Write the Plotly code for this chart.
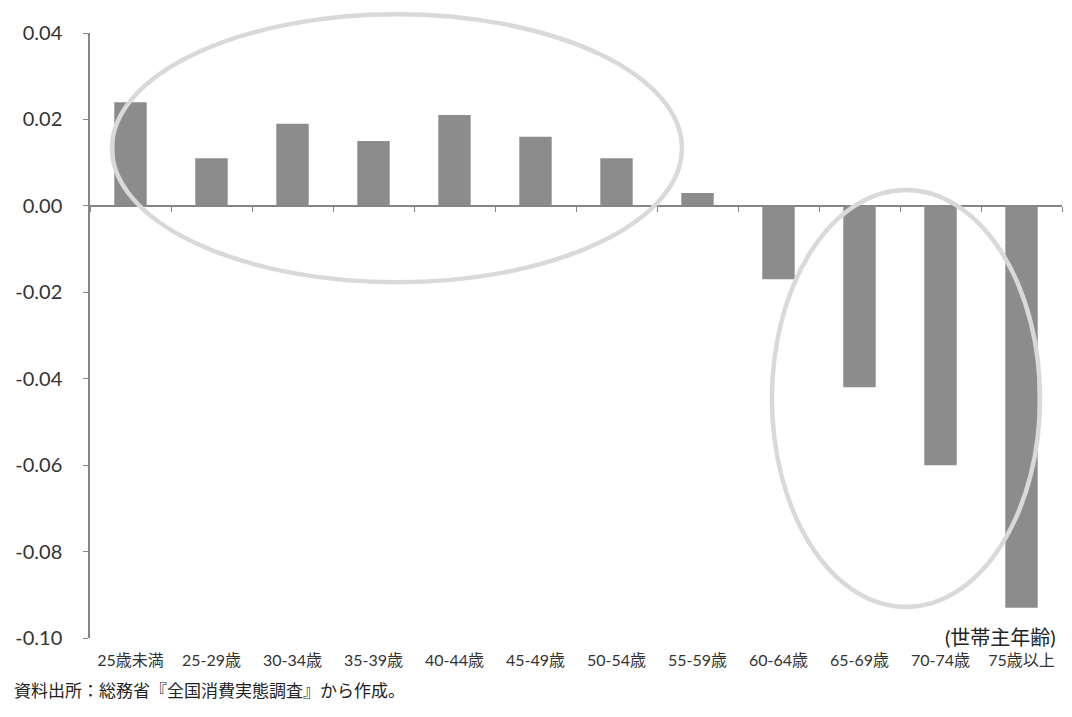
import plotly.graph_objects as go

# Household head age groups and the change in each group's share
age_groups = ["25歳未満", "25-29歳", "30-34歳", "35-39歳", "40-44歳", "45-49歳",
              "50-54歳", "55-59歳", "60-64歳", "65-69歳", "70-74歳", "75歳以上"]
share_change = [0.024, 0.011, 0.019, 0.015, 0.021, 0.016,
                0.011, 0.003, -0.017, -0.042, -0.060, -0.093]

y_tick_vals = [0.04, 0.02, 0.00, -0.02, -0.04, -0.06, -0.08, -0.10]
y_tick_text = ["0.04", "0.02", "0.00", "-0.02", "-0.04", "-0.06", "-0.08", "-0.10"]

axis_title = "(世帯主年齢)"
source_note = "資料出所：総務省『全国消費実態調査』から作成。"

Y_MIN, Y_MAX = -0.10, 0.04
AXIS_GREY = "#868686"
TEXT = "#333333"
FONT = "Lato, Noto Sans CJK JP, sans-serif"

fig = go.Figure()

fig.add_trace(go.Bar(
    x=age_groups, y=share_change,
    marker=dict(color="#8c8c8c", line=dict(width=0)),
    width=0.4,
    hoverinfo="x+y",
))

# invisible companion trace so the zero-line axis knows the categories
fig.add_trace(go.Scatter(
    x=age_groups, y=[0] * len(age_groups),
    xaxis="x2", mode="markers",
    marker=dict(opacity=0), hoverinfo="skip", showlegend=False,
))

cat_range = [-0.5, len(age_groups) - 0.5]
zero_pos = (0 - Y_MIN) / (Y_MAX - Y_MIN)

fig.update_layout(
    width=1072, height=717,
    margin=dict(l=90, r=10, t=33, b=79),
    paper_bgcolor="white", plot_bgcolor="white",
    showlegend=False,
    bargap=0.6,
    font=dict(family=FONT, color=TEXT),
    xaxis=dict(
        type="category", categoryorder="array", categoryarray=age_groups,
        range=cat_range, showline=False, showgrid=False, zeroline=False,
        ticks="", tickfont=dict(size=16, color=TEXT), ticklabelstandoff=11,
    ),
    xaxis2=dict(
        type="category", categoryorder="array", categoryarray=age_groups,
        range=cat_range, overlaying="x", anchor="free", position=zero_pos,
        showline=True, linecolor=AXIS_GREY, linewidth=1.5,
        ticks="outside", tickson="boundaries", ticklen=5, tickcolor=AXIS_GREY,
        showticklabels=False, showgrid=False, zeroline=False,
    ),
    yaxis=dict(
        range=[Y_MIN, Y_MAX], tickvals=y_tick_vals, ticktext=y_tick_text,
        showline=True, linecolor=AXIS_GREY, linewidth=1.5,
        ticks="outside", ticklen=5, tickcolor=AXIS_GREY,
        showgrid=False, zeroline=False,
        tickfont=dict(size=20, color=TEXT), ticklabelstandoff=17,
    ),
    shapes=[
        dict(type="circle", xref="paper", yref="paper",
             x0=0.0226, x1=0.609, y0=0.588, y1=1.031,
             line=dict(color="#d9d9d9", width=4.5), layer="above"),
        dict(type="circle", xref="paper", yref="paper",
             x0=0.7016, x1=0.9774, y0=0.0512, y1=0.7405,
             line=dict(color="#d9d9d9", width=4.5), layer="above"),
    ],
    annotations=[
        dict(text=axis_title, xref="paper", yref="paper",
             x=0.996, y=0.002, xanchor="right", yanchor="middle",
             showarrow=False, font=dict(size=20, color="#222222")),
        dict(text=source_note, xref="paper", yref="paper",
             x=-0.080, y=-0.086, xanchor="left", yanchor="middle",
             showarrow=False, font=dict(size=17, color="#222222")),
    ],
)

fig.write_html("out.html")
